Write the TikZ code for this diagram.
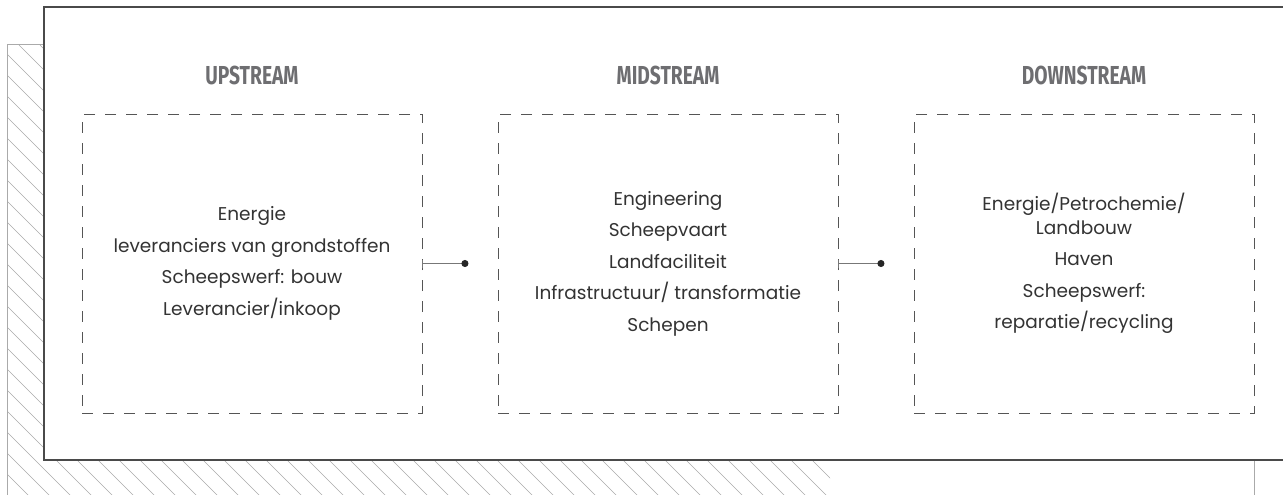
\documentclass[tikz,border=0pt]{standalone}
\usepackage{fontspec}
\usepackage{tikz}
\usetikzlibrary{arrows.meta, positioning, calc}
\usepackage{xcolor}
\setmainfont{Poppins}
\newfontfamily\headfont[FakeStretch=0.74]{Fira Sans}
\definecolor{framegray}{RGB}{74,74,74}
\definecolor{hatchgray}{RGB}{170,170,170}
\definecolor{headgray}{RGB}{110,110,113}
\definecolor{textgray}{RGB}{51,51,51}
\definecolor{dashgray}{RGB}{85,85,85}

\begin{document}
\begin{tikzpicture}[x=1pt, y=-1pt,
  stagebox/.style={draw=dashgray, line width=0.9pt, dash pattern=on 11pt off 10pt,
    minimum width=340pt, minimum height=299pt, align=center, inner sep=0pt,
    font=\fontsize{18.5}{23.5}\selectfont, text=textgray},
  stagehead/.style={font=\headfont\bfseries\fontsize{26}{26}\selectfont, text=headgray},
  hatch/.style={draw=hatchgray, line width=0.7pt},
  link/.style={draw=framegray!75, line width=0.9pt,
    {Bar[width=8pt]}-{Circle[length=7pt, color=black!85]}}]
  \useasboundingbox (0,0) rectangle (1283,495);

  % hatched shadow behind the frame
  \begin{scope}
    \clip (7,45) rectangle (44,495) (44,460) rectangle (830,495);
    \foreach \i in {-443,-422,...,400}
      \draw[hatch] (\i,45) -- ++(500,500);
  \end{scope}
  \draw[hatchgray, line width=1pt] (7,500) -- (7,45) -- (1254,45) -- (1254,500);

  % main frame
  \fill[white] (44,7) rectangle (1300,460);
  \draw[framegray, line width=1.3pt] (1300,7) -- (44,7) -- (44,460) -- (1300,460);

  % the three stages
  \node[stagebox] (up) at (252,263.5) {Energie\\[8pt]
    leveranciers van grondstoffen\\[8pt]
    Scheepswerf: bouw\\[8pt]
    Leverancier/inkoop};
  \node[stagebox] (mid) at (668,263.5) {Engineering\\[8pt]
    Scheepvaart\\[8pt]
    Landfaciliteit\\[8pt]
    Infrastructuur/ transformatie\\[8pt]
    Schepen};
  \node[stagebox] (down) at (1084,263.5) {Energie/Petrochemie/\\
    Landbouw\\[8pt]
    Haven\\[8pt]
    Scheepswerf:\\[8pt]
    reparatie/recycling};

  \node[stagehead] (upHead) at (252,75) {UPSTREAM};
  \node[stagehead] (midHead) at (668,75) {MIDSTREAM};
  \node[stagehead] (downHead) at (1084,75) {DOWNSTREAM};

  % connectors
  \coordinate[right=46pt of up.east] (upDot);
  \coordinate[right=46pt of mid.east] (midDot);
  \draw[link] (up.east) -- (upDot);
  \draw[link] (mid.east) -- (midDot);
\end{tikzpicture}
\end{document}
